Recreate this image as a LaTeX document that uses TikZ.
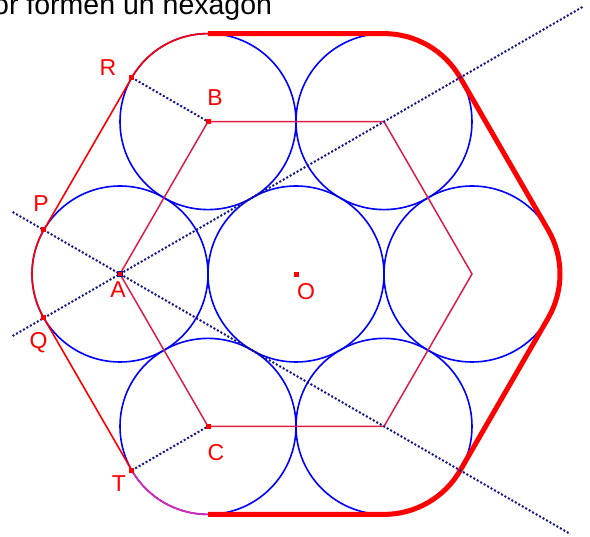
\documentclass[tikz,border=0pt]{standalone}
\usepackage{fontspec}
\setmainfont{Liberation Sans}
\usetikzlibrary{calc}
\definecolor{hexred}{RGB}{220,30,70}
\definecolor{dotnavy}{RGB}{20,20,140}
\definecolor{arcmag}{RGB}{225,40,180}
\begin{document}
\begin{tikzpicture}[x=1pt,y=-1pt,
  circ/.style={draw=blue,line width=1.6pt},
  hexline/.style={draw=hexred,line width=1.5pt},
  thinred/.style={draw=red,line width=1.6pt},
  thinmag/.style={draw=arcmag,line width=1.6pt},
  thickred/.style={draw=red,line width=5pt,line join=round},
  dotline/.style={draw=dotnavy,line width=2pt,dash pattern=on 2pt off 2pt},
  ptbox/.style={rectangle,fill=red,minimum size=5pt,inner sep=0pt},
  lbl/.style={text=red,inner sep=0pt,font=\fontsize{23}{26}\selectfont}]
\useasboundingbox (0,0) rectangle (590,537);
\clip (0,0) rectangle (590,537);
% centres
\coordinate (O) at (296,274);
\coordinate (A) at (120,274);
\coordinate (E) at (472,274);
\coordinate (B) at (208,121.6);
\coordinate (D) at (384,121.6);
\coordinate (C) at (208,426.4);
\coordinate (F) at (384,426.4);
% tangent points
\coordinate (R) at ($(B)+(150:88pt)$);
\coordinate (P) at ($(A)+(150:88pt)$);
\coordinate (Q) at ($(A)+(210:88pt)$);
\coordinate (T) at ($(C)+(210:88pt)$);
\coordinate (Btop) at ($(B)+(90:88pt)$);
\coordinate (Dtop) at ($(D)+(90:88pt)$);
\coordinate (E30) at ($(E)+(30:88pt)$);
\coordinate (Fm30) at ($(F)+(-30:88pt)$);
\coordinate (Cbot) at ($(C)+(-90:88pt)$);
\coordinate (L1a) at ($(A)+(210:124pt)$);
\coordinate (L1b) at ($(A)+(30:535pt)$);
\coordinate (L2a) at ($(A)+(150:124pt)$);
\coordinate (L2b) at ($(A)+(-30:520pt)$);
% title
\node[anchor=base west,inner sep=0pt,font=\fontsize{28.5}{31}\selectfont] (title) at (-7,15) {or formen un hexagon};
% circles
\foreach \c in {O,A,B,C,D,E,F} \draw[circ] (\c) circle[radius=88pt];
% inner hexagon
\draw[hexline] (A) -- (B) -- (D) -- (E) -- (F) -- (C) -- cycle;
% outline
\draw[thinred] (T) -- (Q) arc[start angle=210,end angle=150,radius=88pt] -- (R) arc[start angle=150,end angle=90,radius=88pt];
\draw[thinmag] (Cbot) arc[start angle=270,end angle=210,radius=88pt];
\draw[thickred] (Btop) -- (Dtop) arc[start angle=90,end angle=30,radius=88pt] -- (E30) arc[start angle=30,end angle=-30,radius=88pt] -- (Fm30) arc[start angle=-30,end angle=-90,radius=88pt] -- (Cbot);
% dotted lines
\draw[dotline] (L1a) -- (L1b);
\draw[dotline] (L2a) -- (L2b);
\draw[dotline] (R) -- (B);
\draw[dotline] (T) -- (C);
% points
\foreach \p in {R,P,Q,T,B,C} \node[ptbox] (pt\p) at (\p) {};
\node[ptbox,draw=dotnavy,line width=0.8pt,minimum size=5pt] (ptA) at (A) {};
\node[ptbox] (ptO) at (296.5,274.5) {};
% labels
\node[lbl] (lR) at (108,67.5) {R};
\node[lbl] (lB) at (215,98) {B};
\node[lbl] (lP) at (41,204) {P};
\node[lbl] (lA) at (118,290) {A};
\node[lbl] (lQ) at (38.5,343) {Q};
\node[lbl] (lT) at (119,484) {T};
\node[lbl] (lC) at (216,453) {C};
\node[lbl] (lO) at (306,291.5) {O};
\end{tikzpicture}
\end{document}
